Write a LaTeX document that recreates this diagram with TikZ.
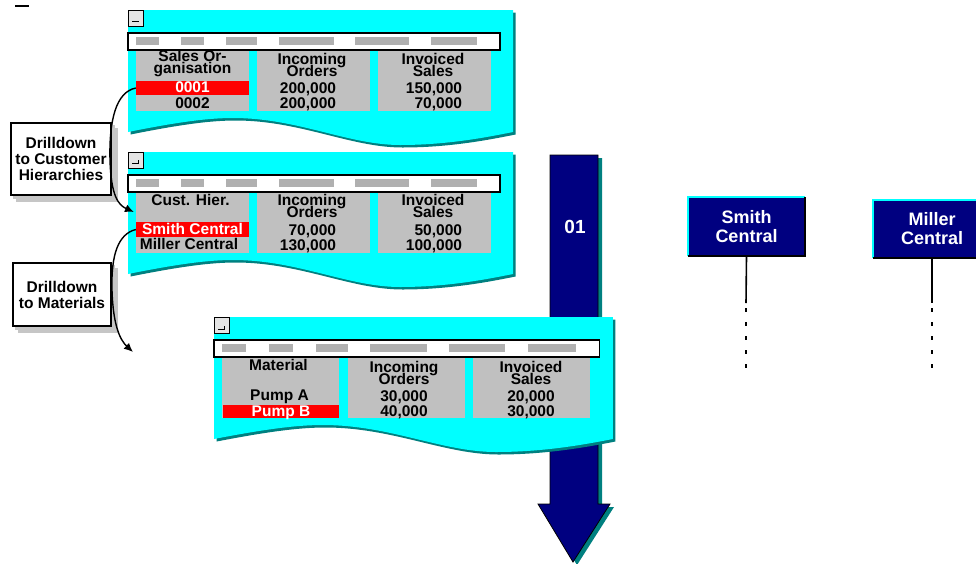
\documentclass[tikz,border=0pt]{standalone}
\usepackage{fontspec}
\setmainfont{Liberation Sans}
\usetikzlibrary{arrows.meta,shadows}
\definecolor{wcyan}{HTML}{00FFFF}
\definecolor{wteal}{HTML}{008080}
\definecolor{wnavy}{HTML}{000080}
\definecolor{colgray}{HTML}{C0C0C0}
\definecolor{bargray}{HTML}{B0B0B0}
\definecolor{btngray}{HTML}{E4E4E4}
\newcommand\tightlines{\lineskiplimit=-30pt\relax}
\newcommand\sapwindow[3]{%
  \begin{scope}[shift={(#1,#2)},xscale=#3]
    \fill[wteal,shift={(2.5,2.5)}] (0,0) -- (385,0) -- (385,122) .. controls (360,127) and (320,135) .. (272,135) .. controls (220,135) and (170,108) .. (105,108) .. controls (80,108) and (50,112) .. (0,122) -- cycle;
    \fill[wcyan] (0,0) -- (385,0) -- (385,122) .. controls (360,127) and (320,135) .. (272,135) .. controls (220,135) and (170,108) .. (105,108) .. controls (80,108) and (50,112) .. (0,122) -- cycle;
    \fill[colgray] (8,40) rectangle (121,101);
    \fill[colgray] (129,40) rectangle (242,101);
    \fill[colgray] (250,40) rectangle (363,101);
    \draw[fill=white,line width=1.5pt] (0,23) rectangle (372,40);
    \foreach \a/\b in {8/31,53/76,98/129,151/206,227/281,303/349}
      \fill[bargray] (\a,27) rectangle (\b,35);
    \draw[fill=btngray,line width=0.7pt] (0,0) rectangle (15,16);
  \end{scope}}
\tikzset{
  hd/.style={font=\bfseries\fontsize{15.5}{12}\selectfont\tightlines,inner sep=0pt,align=center},
  vl/.style={font=\bfseries\fontsize{15.5}{15}\selectfont\tightlines,inner sep=0pt,align=right},
  hil/.style={fill=red,text=white,font=\bfseries\fontsize{15.5}{15}\selectfont,inner sep=0pt,text height=11pt,text depth=2pt},
  lbox/.style={draw=black,line width=1.2pt,fill=white,inner sep=0pt,align=center,
     font=\bfseries\fontsize{15.5}{16}\selectfont\tightlines,
     double copy shadow={shadow xshift=3pt,shadow yshift=-3pt,draw=gray!45,fill=gray!45}},
  curv/.style={line width=1.4pt,-{Latex[length=9pt,width=8pt]}},
  orgbox/.style={fill=wnavy,text=white,inner sep=0pt,align=center,font=\bfseries\fontsize{18}{19}\selectfont\tightlines},
  stem/.style={line width=1.6pt},
  dots/.style={line width=1.6pt,dash pattern=on 4pt off 10pt}
}
\begin{document}
\begin{tikzpicture}[x=1pt,y=-1pt]
\clip (0,0) rectangle (976,563);
\fill[white] (0,0) rectangle (976,563);
% small mark top left
\draw[line width=1.3pt] (15,6) -- (29,6);

% window 1
\sapwindow{128}{10}{1}
\draw[line width=1pt] (132,21) -- (139,21);
\node[hd] (w1h1) at (192.5,64) {Sales Or-\\ganisation};
\node[hd] (w1h2) at (312,65) {Incoming\\Orders};
\node[hd] (w1h3) at (433,65) {Invoiced\\Sales};
\node[hil,minimum width=113pt,minimum height=14pt] (r1) at (192.5,88) {0001};
\node[vl] (w1v1) at (192.5,103) {0002};
\node[vl] (w1v2) at (308,97) {200,000\\200,000};
\node[vl] (w1v3) at (434,97) {150,000\\70,000};

% window 2
\sapwindow{128}{152}{1}
\draw[line width=1pt] (132,163) -- (138,163) -- (138,160);
\node[hd] (w2h1) at (190.5,200) {Cust. Hier.};
\node[hd] (w2h2) at (312,206) {Incoming\\Orders};
\node[hd] (w2h3) at (433,206) {Invoiced\\Sales};
\node[hil,minimum width=113pt,minimum height=15pt] (r2) at (192.5,229.5) {Smith Central};
\node[vl] (w2v1) at (189,244) {Miller Central};
\node[vl] (w2v2) at (308,238.5) {70,000\\130,000};
\node[vl] (w2v3) at (434,238.5) {50,000\\100,000};

% big arrow
\fill[wteal,shift={(4,3)}] (550,155) -- (598,155) -- (598,504) -- (610,504) -- (573,562) -- (538,504) -- (550,504) -- cycle;
\draw[fill=wnavy,line width=0.8pt] (550,155) -- (598,155) -- (598,504) -- (610,504) -- (573,562) -- (538,504) -- (550,504) -- cycle;
\node[text=white,inner sep=0pt,font=\bfseries\fontsize{19}{20}\selectfont] (lbl01) at (575,227) {01};

% window 3
\sapwindow{214}{317}{1.036}
\draw[line width=1pt] (218,329) -- (224,329) -- (224,326);
\node[hd] (w3h1) at (278.5,365) {Material};
\node[hd] (w3h2) at (404,372.5) {Incoming\\Orders};
\node[hd] (w3h3) at (531,372.5) {Invoiced\\Sales};
\node[vl] (w3v1) at (279.5,397) {Pump A};
\node[hil,minimum width=116pt,minimum height=13pt] (r3) at (281,411.5) {Pump B};
\node[vl] (w3v2) at (404,404.5) {30,000\\40,000};
\node[vl] (w3v3) at (531,404.5) {20,000\\30,000};

% left label boxes
\node[lbox,minimum width=100pt,minimum height=72pt] (lb1) at (61,159) {Drilldown\\to Customer\\Hierarchies};
\node[lbox,minimum width=98pt,minimum height=63pt] (lb2) at (62,294.5) {Drilldown\\to Materials};

% drilldown arrows
\coordinate (t1) at (134,212);
\coordinate (t2) at (133,352);
\draw[curv] (r1.west) .. controls (116,92) and (109,120) .. (110,160) .. controls (111,195) and (118,205) .. (t1);
\draw[curv] (r2.west) .. controls (118,234) and (111,255) .. (112,290) .. controls (113,325) and (120,340) .. (t2);

% hierarchy boxes
\node[orgbox,minimum width=117pt,minimum height=59pt] (smith) at (746.5,226.5) {Smith\\Central};
\draw[wcyan,line width=2pt] (smith.south west) -- (smith.north west) -- (smith.north east);
\draw[black,line width=2pt] (smith.north east) -- (smith.south east) -- (smith.south west);
\node[orgbox,minimum width=118pt,minimum height=58pt] (miller) at (932,229) {Miller\\Central};
\draw[wcyan,line width=2pt] (miller.south west) -- (miller.north west) -- (miller.north east);
\draw[black,line width=2pt] (miller.north east) -- (miller.south east) -- (miller.south west);
\coordinate (s1) at (746,303);
\coordinate (s2) at (746,370);
\coordinate (m1) at (932,303);
\coordinate (m2) at (932,370);
\draw[stem] (smith.south) -- (s1);
\draw[dots] (s1) ++(0,5) -- (s2);
\draw[stem] (miller.south) -- (m1);
\draw[dots] (m1) ++(0,5) -- (m2);
\end{tikzpicture}
\end{document}
